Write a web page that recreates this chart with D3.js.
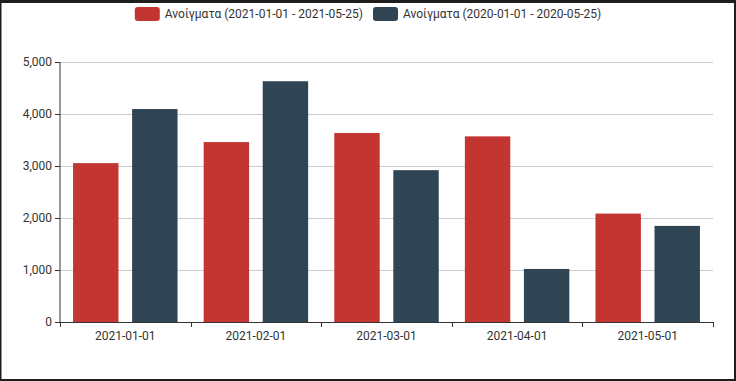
<!DOCTYPE html>
<html>
<head>
<meta charset="utf-8">
<script src="https://cdn.jsdelivr.net/npm/d3@7"></script>
<style>
  html, body { margin: 0; padding: 0; background: #fff; }
  svg { display: block; font-family: Roboto, "Noto Sans", sans-serif; }
</style>
</head>
<body>
<svg id="chart" width="736" height="381"></svg>
<script>
const categories = ["2021-01-01", "2021-02-01", "2021-03-01", "2021-04-01", "2021-05-01"];
const seriesNames = ["Ανοίγματα (2021-01-01 - 2021-05-25)", "Ανοίγματα (2020-01-01 - 2020-05-25)"];
const values2021 = [3055, 3460, 3635, 3570, 2085];
const values2020 = [4095, 4630, 2920, 1020, 1848];
const yTicks = [0, 1000, 2000, 3000, 4000, 5000];
const colors = ["#c23531", "#2f4554"];

const series = [values2021, values2020];
const W = 736, H = 381;
const margin = { left: 60, right: 23, top: 62, bottom: 59 };
const svg = d3.select("#chart");

const x0 = d3.scaleBand().domain(categories).range([margin.left, W - margin.right]).paddingInner(0).paddingOuter(0);
const x1 = d3.scaleBand().domain(d3.range(series.length)).range([0, x0.bandwidth()])
  .paddingInner(0.3 / 1.3).paddingOuter(0.2213);
const y = d3.scaleLinear().domain([0, 5000]).range([H - margin.bottom, margin.top]);

// grid lines
svg.append("g").selectAll("line").data(yTicks.filter(d => d > 0)).join("line")
  .attr("x1", margin.left).attr("x2", W - margin.right)
  .attr("y1", d => y(d)).attr("y2", d => y(d))
  .attr("stroke", "#ccc").attr("stroke-width", 1).attr("shape-rendering", "crispEdges");

// bars
const groups = svg.append("g").selectAll("g").data(categories).join("g")
  .attr("transform", d => `translate(${x0(d)},0)`);
groups.selectAll("rect").data((c, i) => series.map((s, k) => ({ k, v: s[i] }))).join("rect")
  .attr("x", d => x1(d.k)).attr("width", x1.bandwidth())
  .attr("y", d => y(d.v)).attr("height", d => y(0) - y(d.v))
  .attr("fill", d => colors[d.k]);

// y axis
const yAxis = d3.axisLeft(y).tickValues(yTicks).tickFormat(d3.format(",")).tickSize(5).tickPadding(3);
const gy = svg.append("g").attr("transform", `translate(${margin.left},0)`).call(yAxis);
gy.select(".domain").attr("stroke", "#333").attr("d", `M0,${y(5000)}V${y(0)}`);
gy.selectAll(".tick line").attr("stroke", "#333");
gy.selectAll(".tick text").attr("fill", "#333").attr("font-size", 12).attr("font-family", "Roboto, sans-serif");

// x axis
const xAxis = d3.axisBottom(x0).tickSize(0).tickPadding(9);
const gx = svg.append("g").attr("transform", `translate(0,${y(0)})`).call(xAxis);
gx.select(".domain").attr("stroke", "#333").attr("d", `M${margin.left},0.5H${W - margin.right}`);
gx.selectAll(".tick text").attr("fill", "#333").attr("font-size", 12).attr("font-family", "Roboto, sans-serif");
const bounds = categories.map(c => x0(c)).concat([x0(categories[categories.length - 1]) + x0.bandwidth()]);
gx.append("g").selectAll("line").data(bounds).join("line")
  .attr("x1", d => Math.round(d) + 0.5).attr("x2", d => Math.round(d) + 0.5)
  .attr("y1", 0).attr("y2", 5).attr("stroke", "#333");

// legend
const legend = svg.append("g");
const items = legend.selectAll("g").data(seriesNames).join("g");
items.append("rect").attr("width", 25).attr("height", 14).attr("rx", 3).attr("ry", 3)
  .attr("y", 7).attr("fill", (d, i) => colors[i]);
items.append("text").text(d => d).attr("x", 30).attr("y", 14).attr("dy", "0.35em")
  .attr("font-size", 12).attr("fill", "#333");
let widths = [];
items.each(function () { widths.push(30 + d3.select(this).select("text").node().getComputedTextLength()); });
const total = d3.sum(widths) + 10 * (widths.length - 1);
let cx = 368 - total / 2;
items.attr("transform", (d, i) => { const t = `translate(${cx},0)`; cx += widths[i] + 10; return t; });

// screenshot frame
svg.append("rect").attr("x", 0).attr("y", 0).attr("width", W).attr("height", 3).attr("fill", "#1e1e1e");
svg.append("rect").attr("x", 0).attr("y", 0).attr("width", 1.5).attr("height", H).attr("fill", "#1e1e1e");
svg.append("rect").attr("x", W - 2).attr("y", 0).attr("width", 2).attr("height", H).attr("fill", "#1e1e1e");
svg.append("rect").attr("x", 0).attr("y", H - 2).attr("width", W).attr("height", 2).attr("fill", "#1e1e1e");
</script>
</body>
</html>
